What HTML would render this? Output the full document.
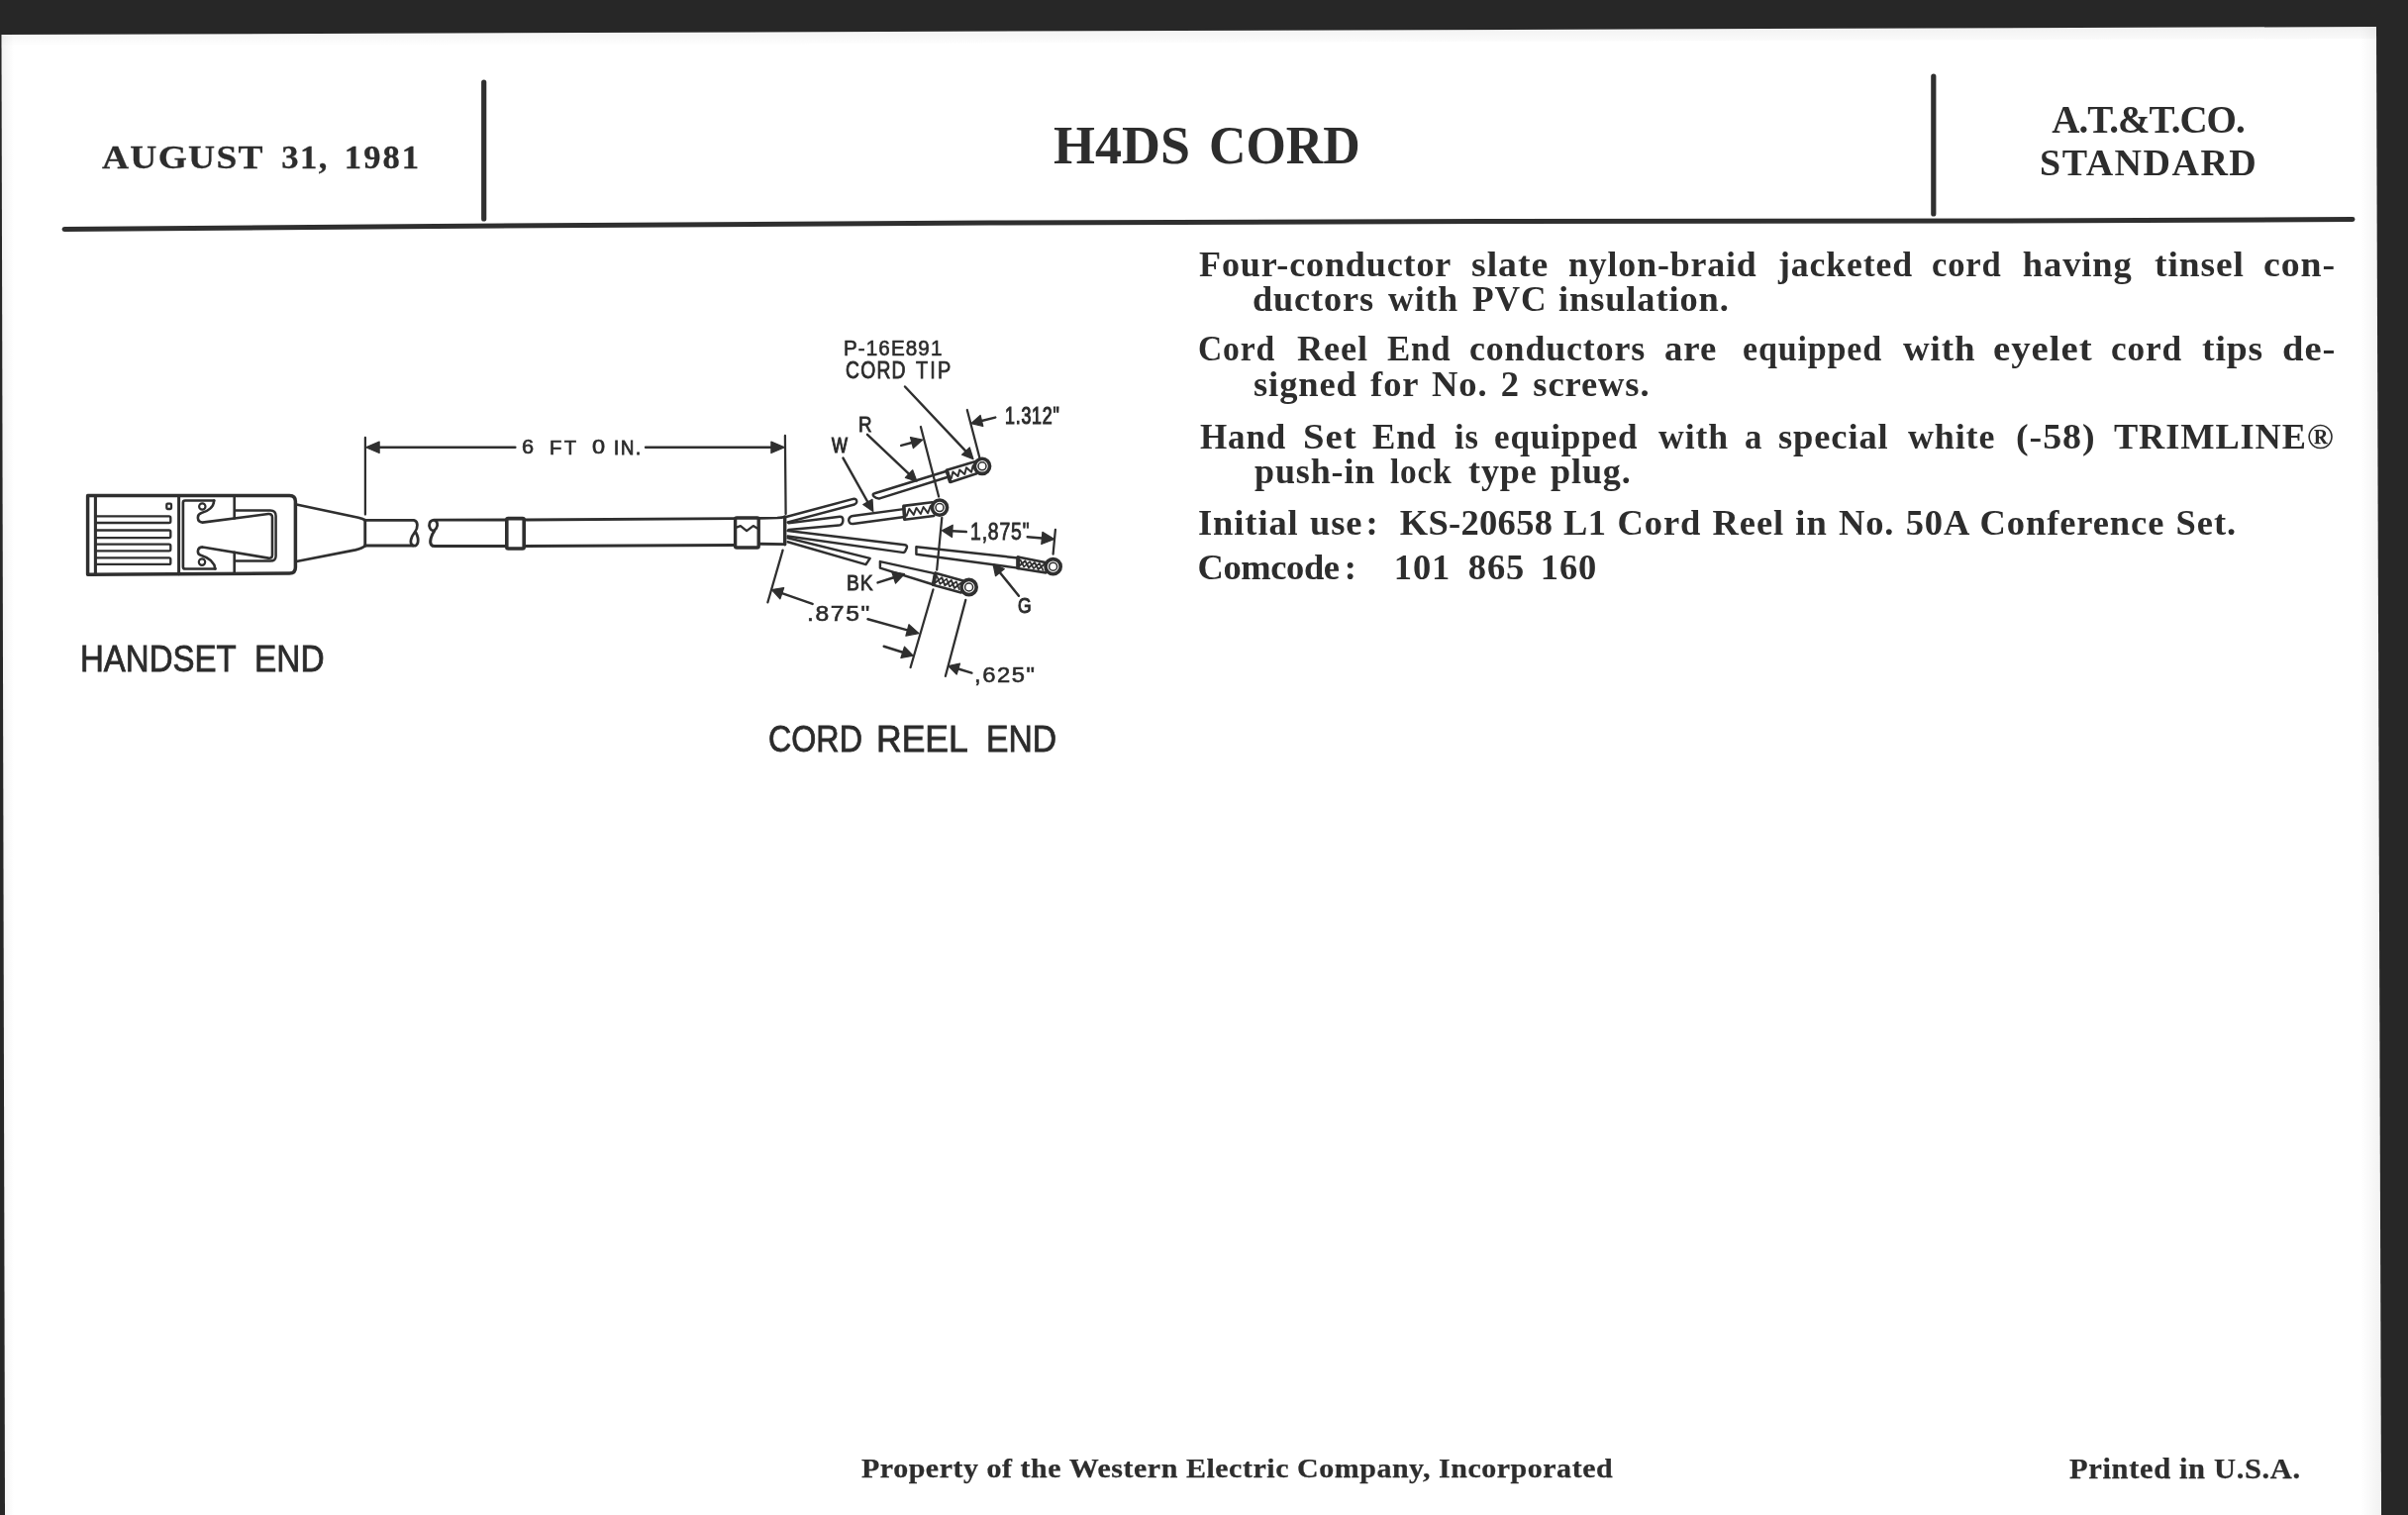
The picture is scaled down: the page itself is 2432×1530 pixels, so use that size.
<!DOCTYPE html>
<html>
<head>
<meta charset="utf-8">
<title>H4DS CORD</title>
<style>
html,body{margin:0;padding:0;background:#fff;}
body{filter:grayscale(1) blur(0.55px);width:2432px;height:1530px;position:relative;overflow:hidden;font-family:"Liberation Serif",serif;color:#2d2d2d;}
#art{position:absolute;left:0;top:0;width:2432px;height:1530px;}
.t{position:absolute;white-space:nowrap;line-height:1;font-weight:bold;}
.j{position:absolute;white-space:normal;line-height:1;font-weight:bold;text-align:justify;text-align-last:justify;font-size:36.5px;letter-spacing:0.9px;height:40px;overflow:visible;}
.l{position:absolute;white-space:nowrap;line-height:1;font-weight:bold;font-size:36.5px;letter-spacing:0.9px;word-spacing:2.5px;}
.l span{position:absolute;top:0;}
.s{font-family:"Liberation Sans",sans-serif;font-weight:normal;position:absolute;white-space:nowrap;line-height:1;color:#2b2b2b;}
.d{transform-origin:0 0;-webkit-text-stroke:0.7px #2b2b2b;}
#lab1 span,#lab2 span{-webkit-text-stroke:0.8px #2b2b2b;}
.w{position:absolute;left:1200px;width:1200px;height:40px;font-weight:bold;font-size:36.5px;letter-spacing:0.9px;line-height:1;white-space:nowrap;}
.w span{position:absolute;top:0;transform-origin:0 0;}
</style>
</head>
<body>
<svg id="art" viewBox="0 0 2432 1530" width="2432" height="1530">
<defs>
<linearGradient id="gt" x1="0" y1="0" x2="0" y2="1"><stop offset="0" stop-color="#000" stop-opacity="0.055"/><stop offset="1" stop-color="#000" stop-opacity="0"/></linearGradient>
<linearGradient id="gr" x1="1" y1="0" x2="0" y2="0"><stop offset="0" stop-color="#000" stop-opacity="0.05"/><stop offset="1" stop-color="#000" stop-opacity="0"/></linearGradient>
<linearGradient id="gl" x1="0" y1="0" x2="1" y2="0"><stop offset="0" stop-color="#000" stop-opacity="0.05"/><stop offset="1" stop-color="#000" stop-opacity="0"/></linearGradient>
</defs>
<g id="shade" stroke="none">
<polygon points="0,35 2400,27 2400,39 0,47" fill="url(#gt)"/>
<rect x="2384" y="27" width="20" height="1503" fill="url(#gr)"/>
<rect x="2" y="35" width="12" height="1495" fill="url(#gl)"/>
</g>
<!-- scanner bed / dark borders -->
<g id="borders" fill="#272727">
<polygon points="0,0 2432,0 2432,27 2400,27 0,35"/>
<polygon points="2400,27 2432,27 2432,1530 2405,1530"/>
<polygon points="0,35 1.5,35 5,1530 0,1530"/>
</g>
<!-- header rules -->
<g id="rules" fill="none" stroke="#2f2f2f" stroke-linecap="round">
<path d="M65,231.5 L440,228.5 L1000,225 L1500,223.6 L2100,222.8 L2376,221.6" stroke-width="5"/>
<line x1="488.7" y1="83" x2="488.7" y2="221" stroke-width="5.2"/>
<line x1="1952.8" y1="77" x2="1952.8" y2="216" stroke-width="5.2"/>
</g>
<g id="diagram" fill="none" stroke="#2f2f2f" stroke-width="2.6" stroke-linecap="round" stroke-linejoin="round">
<!-- plug -->
<path d="M88.6,500.6 H292.4 Q298.4,500.6 298.4,506.6 V573.1 Q298.4,579.1 292.4,579.1 L88.6,580.2 Z" stroke-width="3.50"/>
<path d="M96.4,500.6 L96.4,580.1" stroke-width="3.09"/>
<path d="M180.6,500.6 L180.6,579.7" stroke-width="2.99"/>
<path d="M96.4,521.40 H170.8 Q172.3,521.40 172.3,522.90 V526.50 Q172.3,528.00 170.8,528.00 H96.4" stroke-width="2.32"/>
<path d="M96.4,535.50 H170.8 Q172.3,535.50 172.3,537.00 V541.60 Q172.3,543.10 170.8,543.10 H96.4" stroke-width="2.32"/>
<path d="M96.4,549.70 H170.8 Q172.3,549.70 172.3,551.20 V554.80 Q172.3,556.30 170.8,556.30 H96.4" stroke-width="2.32"/>
<path d="M96.4,563.30 H170.8 Q172.3,563.30 172.3,564.80 V568.40 Q172.3,569.90 170.8,569.90 H96.4" stroke-width="2.32"/>
<rect x="168.3" y="508.7" width="4.7" height="5.3" rx="1" stroke-width="2.27"/>
<path d="M216.2,505.5 H187 Q184.9,505.5 184.9,507.5 V572.5 Q184.9,574.5 187,574.5 H217.5" stroke-width="2.68"/>
<path d="M216.2,505.5 C216,512 210,516.5 203.5,518 C198.5,519.5 198.5,527 204.5,527.6 L271,519 Q275,518.6 275,522.5 V560.5 Q275,564.2 271,563.6 L204.5,552.4 C198.5,553 198.5,560 203.5,561 C210,563 216.5,567.5 217.3,574.5" stroke-width="2.58"/>
<circle cx="204.3" cy="511.5" r="3.2" stroke-width="2.16"/>
<circle cx="204" cy="567.6" r="3.2" stroke-width="2.16"/>
<path d="M238,515.4 H273 Q278.6,515.4 278.6,521 V561.5 Q278.6,566.6 273,566.6 H238" stroke-width="2.47"/>
<path d="M236.7,500.6 L236.7,523.4" stroke-width="2.58"/>
<path d="M236.7,557.8 L236.7,579.1" stroke-width="2.58"/>
<path d="M299.4,509.5 L362,522.8 Q367,524 368.75,525.3" stroke-width="2.68"/>
<path d="M299.4,567 L359,555.4 Q366,553.6 368.75,551.2" stroke-width="2.68"/>
<path d="M368.75,525.3 L368.75,551.2" stroke-width="2.88"/>
<!-- cord -->
<path d="M368.75,525.3 L418,525.3 C422.4,526.2 422.4,533.1 418.9,537.5 C415.4,541.9 412.8,548.8 417.1,551 C422.4,552.3 424.1,545.3 419.8,537.5" stroke-width="2.78"/>
<path d="M368.75,551.1 L417.1,551.1" stroke-width="2.99"/>
<path d="M510.5,525 L438.1,525.2 C433.5,525.6 432.8,530.2 434.2,533.2 C435.6,536.4 438.6,536.8 440.6,533.6 C442.6,530.2 442,526.2 438.1,525.2" stroke-width="2.78"/>
<path d="M438.6,536.4 C435.5,540.5 433.6,547 435.4,550 Q436.6,551.6 439,551.6 L510.5,551.5" stroke-width="2.99"/>
<path d="M530.1,525 L741.6,523.6" stroke-width="2.78"/>
<path d="M530.1,551.5 L741.6,550.5" stroke-width="2.99"/>
<rect x="511.8" y="523.6" width="17.4" height="30.4" rx="1.5" stroke-width="3.60"/>
<rect x="742.6" y="523" width="23.6" height="30" rx="1.5" stroke-width="3.40"/>
<path d="M743.7,532.6 L747.9,531.1 L754.1,536.1 L760.7,531.1 L765.7,534" stroke-width="2.27"/>
<path d="M767.4,523.3 L785,523 Q790,522.8 792.7,522" stroke-width="2.68"/>
<path d="M767.4,549.2 L792.7,549.6" stroke-width="2.88"/>
<path d="M792.7,522 L792.7,549.8" stroke-width="3.40"/>
<!-- dim 6ft -->
<path d="M368.9,441.9 L368.9,519.6" stroke-width="2.27"/>
<path d="M792.9,440 L793.6,519" stroke-width="2.27"/>
<path d="M520.4,451.8 L383.1,451.8" stroke-width="2.37"/>
<path d="M369.6,451.8 L383.1,446.1 L383.1,457.5 Z" fill="#2f2f2f" stroke-width="1.24"/>
<path d="M652.0,451.8 L778.9,451.8" stroke-width="2.37"/>
<path d="M792.4,451.8 L778.9,457.5 L778.9,446.1 Z" fill="#2f2f2f" stroke-width="1.24"/>
<!-- wires -->
<path d="M794,522 L861.5,503.9 Q865.6,503.4 865.2,507 Q864.8,509 862.9,509.5 L795.6,527.4" stroke-width="2.47"/>
<path d="M796.4,528.2 L848.2,521.7 Q851.6,521.6 851.4,525.6 Q851.2,530 847.1,530.6 L796.4,534.9" stroke-width="2.47"/>
<path d="M795.6,536.1 L913.8,550.3 Q916.6,550.8 915.9,553 L914.3,556.6 Q913.4,558.3 911.3,557.9 L795.6,541.5" stroke-width="2.47"/>
<path d="M795.6,543.2 L878.7,563.9 L874.5,570.1 L795.6,547.3" stroke-width="2.47"/>
<path d="M958.9,481.3 L888.4,503.4 Q885.2,503.8 882.6,501.4 Q880.4,499 883.4,498.3 L956.1,475.8" stroke-width="2.47"/>
<path d="M956.1,474.8 L984.5,466.3 M959.8,486.9 L986.4,478.3 M956.1,474.8 L959.8,486.9" stroke-width="2.58"/>
<circle cx="992" cy="470.8" r="7.6" stroke-width="3.60"/>
<circle cx="992" cy="470.8" r="4" stroke-width="1.54"/>
<path d="M912.7,514.1 L861.6,521 Q857.4,521.6 857.2,525.2 Q857.4,529.2 861.6,529 L913.6,522" stroke-width="2.47"/>
<path d="M912.7,510.9 L941.3,507.2 M913.6,524.7 L943.2,521 M912.7,510.9 L913.6,524.7" stroke-width="2.58"/>
<circle cx="949" cy="512.6" r="7.6" stroke-width="3.60"/>
<circle cx="949" cy="512.6" r="4" stroke-width="1.54"/>
<path d="M1028,563.4 L925.4,552.3 L925.4,559.7 L1028,573.6" stroke-width="2.47"/>
<path d="M1028,562.5 L1055.7,568 M1028,574 L1056.3,578.4 M1028,562.5 L1028,574" stroke-width="2.68"/>
<circle cx="1063.6" cy="572.2" r="7.6" stroke-width="3.60"/>
<circle cx="1063.6" cy="572.2" r="4" stroke-width="1.54"/>
<path d="M943.9,579.1 L888.9,567.1 L888.9,573.6 L942.1,590.2" stroke-width="2.47"/>
<path d="M944.8,578.7 L972.6,586.5 M942.5,590.7 L970.7,598.5 M944.8,578.7 L942.5,590.7" stroke-width="2.68"/>
<circle cx="978.6" cy="593" r="7.6" stroke-width="3.60"/>
<circle cx="978.6" cy="593" r="4" stroke-width="1.54"/>
<path d="M956.4,475.6 L959.6,486.2" stroke-width="3.71"/>
<path d="M912.9,511.6 L913.6,524" stroke-width="3.50"/>
<path d="M1028.2,563.2 L1028.2,573.4" stroke-width="3.91"/>
<path d="M944.7,579.4 L942.7,590" stroke-width="3.91"/>
<path d="M960.8,483.1 L962.4,476.5 L967.5,481.0 L969.2,474.4 L974.3,478.9 L976.0,472.3 L981.1,476.8 L982.7,470.2" stroke-width="1.96"/>
<path d="M915.6,520.8 L918.3,513.8 L922.8,519.9 L925.5,512.9 L929.9,519.0 L932.6,512.0 L937.1,518.1 L939.8,511.1" stroke-width="1.96"/>
<path d="M1029.4,571.6 L1035.3,566.4 L1039.0,573.3 L1045.0,568.1 L1048.7,575.0 L1054.6,569.8" stroke-width="1.96"/>
<path d="M1030.5,565.5 L1034.2,572.5 L1040.1,567.2 L1043.9,574.2 L1049.8,568.9 L1053.5,575.9" stroke-width="1.65"/>
<path d="M944.6,588.5 L951.3,583.3 L954.3,591.2 L960.9,586.0 L963.9,593.9 L970.6,588.7" stroke-width="1.96"/>
<path d="M946.4,582.0 L949.4,589.9 L956.1,584.7 L959.1,592.5 L965.8,587.3 L968.8,595.2" stroke-width="1.65"/>
<!-- leaders -->
<path d="M914.0,390.5 L975.4,455.6" stroke-width="2.47"/>
<path d="M983.0,463.6 L971.6,459.2 L979.3,452.0 Z" fill="#2f2f2f" stroke-width="1.24"/>
<path d="M876.0,438.8 L918.0,478.6" stroke-width="2.47"/>
<path d="M926.0,486.2 L914.4,482.5 L921.7,474.8 Z" fill="#2f2f2f" stroke-width="1.24"/>
<path d="M851.5,462.6 L876.4,507.0" stroke-width="2.47"/>
<path d="M881.8,516.6 L871.8,509.6 L881.0,504.4 Z" fill="#2f2f2f" stroke-width="1.24"/>
<path d="M886.5,588.4 L902.6,583.2" stroke-width="2.47"/>
<path d="M913.5,579.6 L904.5,589.0 L900.7,577.4 Z" fill="#2f2f2f" stroke-width="1.24"/>
<path d="M1028.9,601.8 L1009.9,578.2" stroke-width="2.47"/>
<path d="M1003.0,569.6 L1014.3,574.6 L1005.5,581.7 Z" fill="#2f2f2f" stroke-width="1.24"/>
<path d="M929.9,431 L948.1,501.5" stroke-width="2.27"/>
<path d="M976.8,414 L989.3,462" stroke-width="2.27"/>
<path d="M910.2,449.9 L921.0,447.0" stroke-width="2.47"/>
<path d="M931.6,444.2 L922.4,452.5 L919.5,441.5 Z" fill="#2f2f2f" stroke-width="1.24"/>
<path d="M1005.1,421.6 L991.5,425.0" stroke-width="2.47"/>
<path d="M980.8,427.6 L990.1,419.4 L992.8,430.5 Z" fill="#2f2f2f" stroke-width="1.24"/>
<path d="M951.3,522.8 L946.2,575.5" stroke-width="2.27"/>
<path d="M1065.9,534.8 L1063.6,559.7" stroke-width="2.27"/>
<path d="M975.8,537.1 L961.9,536.3" stroke-width="2.47"/>
<path d="M951.4,535.7 L962.2,530.2 L961.5,542.4 Z" fill="#2f2f2f" stroke-width="1.24"/>
<path d="M1037.7,542.2 L1052.3,543.4" stroke-width="2.47"/>
<path d="M1064.8,544.5 L1051.8,549.5 L1052.9,537.4 Z" fill="#2f2f2f" stroke-width="1.24"/>
<path d="M790.6,555.6 L775.4,608.3" stroke-width="2.27"/>
<path d="M820.6,609.9 L789.8,599.2" stroke-width="2.47"/>
<path d="M779.4,595.6 L791.7,593.6 L787.9,604.8 Z" fill="#2f2f2f" stroke-width="1.24"/>
<path d="M942.5,595.3 L919.6,674" stroke-width="2.27"/>
<path d="M876.5,625.3 L916.4,636.4" stroke-width="2.47"/>
<path d="M928.0,639.6 L914.9,642.1 L918.0,630.7 Z" fill="#2f2f2f" stroke-width="1.24"/>
<path d="M892.7,652.7 L911.7,658.8" stroke-width="2.47"/>
<path d="M922.2,662.2 L909.9,664.4 L913.5,653.2 Z" fill="#2f2f2f" stroke-width="1.24"/>
<path d="M975.3,605.9 L954.9,682.8" stroke-width="2.27"/>
<path d="M981.4,679.6 L967.9,675.5" stroke-width="2.47"/>
<path d="M957.8,672.5 L969.5,670.1 L966.2,681.0 Z" fill="#2f2f2f" stroke-width="1.24"/>
</g>
</svg>

<!-- header text -->
<div class="t" id="date" style="left:0;top:141px;font-size:34.5px;-webkit-text-stroke:0.3px #2d2d2d;"><span style="position:absolute;left:102.6px;letter-spacing:1.2px;transform:scaleX(1.085);transform-origin:0 0;">AUGUST</span><span style="position:absolute;left:284.2px;letter-spacing:1.5px;">31,</span><span style="position:absolute;left:347.8px;letter-spacing:2.1px;">1981</span></div>
<div class="t" id="title" style="left:0;top:119px;font-size:55.5px;"><span style="position:absolute;left:1063.7px;transform:scaleX(0.972);transform-origin:0 0;">H4DS</span><span style="position:absolute;left:1221.2px;transform:scaleX(0.935);transform-origin:0 0;">CORD</span></div>
<div class="t" id="att1" style="left:2072.3px;top:101px;font-size:39px;letter-spacing:-1px;">A.T.&amp;T.CO.</div>
<div class="t" id="att2" style="left:2060px;top:144.5px;font-size:38px;letter-spacing:1.5px;">STANDARD</div>

<!-- body text -->
<div class="w" id="p1a" style="top:249.3px;"><span style="left:11.2px;transform:scaleX(0.987);">Four-conductor</span><span style="left:285.5px;transform:scaleX(1.036);">slate</span><span style="left:383.7px;transform:scaleX(0.980);">nylon-braid</span><span style="left:595.9px;transform:scaleX(0.979);">jacketed</span><span style="left:751.0px;transform:scaleX(0.947);">cord</span><span style="left:842.8px;transform:scaleX(1.000);">having</span><span style="left:976.1px;transform:scaleX(1.026);">tinsel</span><span style="left:1086.0px;transform:scaleX(1.035);">con-</span></div>
<div class="w" id="p1b" style="top:284.2px;"><span style="left:65.0px;transform:scaleX(0.993);">ductors</span><span style="left:201.8px;transform:scaleX(0.978);">with</span><span style="left:286.5px;transform:scaleX(0.971);">PVC</span><span style="left:373.7px;transform:scaleX(0.997);">insulation.</span></div>
<div class="w" id="p2a" style="top:334.0px;"><span style="left:10.1px;transform:scaleX(0.921);">Cord</span><span style="left:109.6px;transform:scaleX(0.994);">Reel</span><span style="left:200.6px;transform:scaleX(0.954);">End</span><span style="left:284.0px;transform:scaleX(0.982);">conductors</span><span style="left:481.0px;transform:scaleX(1.008);">are</span><span style="left:559.7px;transform:scaleX(0.932);">equipped</span><span style="left:722.0px;transform:scaleX(1.012);">with</span><span style="left:813.1px;transform:scaleX(1.064);">eyelet</span><span style="left:931.5px;transform:scaleX(0.965);">cord</span><span style="left:1023.5px;transform:scaleX(1.029);">tips</span><span style="left:1104.6px;transform:scaleX(1.058);">de-</span></div>
<div class="l" id="p2b" style="left:1266px;top:370.0px;word-spacing:3.3px;">signed for No. 2 screws.</div>
<div class="w" id="p3a" style="top:423.3px;"><span style="left:12.4px;transform:scaleX(0.959);">Hand</span><span style="left:116.0px;transform:scaleX(1.061);">Set</span><span style="left:185.6px;transform:scaleX(0.957);">End</span><span style="left:269.1px;transform:scaleX(0.946);">is</span><span style="left:309.2px;transform:scaleX(0.961);">equipped</span><span style="left:474.7px;transform:scaleX(0.977);">with</span><span style="left:562.1px;transform:scaleX(0.953);">a</span><span style="left:596.4px;transform:scaleX(0.999);">special</span><span style="left:727.0px;transform:scaleX(0.985);">white</span><span style="left:835.6px;transform:scaleX(1.039);">(-58)</span><span style="left:935.0px;transform:scaleX(0.995);">TRIMLINE&reg;</span></div>
<div class="w" id="p3b" style="top:457.8px;"><span style="left:67.2px;transform:scaleX(0.985);">push-in</span><span style="left:204.3px;transform:scaleX(0.912);">lock</span><span style="left:282.8px;transform:scaleX(0.987);">type</span><span style="left:366.3px;transform:scaleX(0.989);">plug.</span></div>
<div class="l" id="p4" style="left:1210.0px;top:510.0px;word-spacing:1.3px;">Initial use<b style="margin-left:3px;margin-right:10px;">:</b> <i style="font-style:normal;letter-spacing:0.3px;">KS-20658 L1</i> Cord Reel in No. 50A Conference Set.</div>
<div class="l" id="p5" style="left:1209.5px;top:555.0px;"><i style="font-style:normal;letter-spacing:-0.4px;">Comcode</i><b style="margin-left:5px;margin-right:24.5px;">:</b> 101<b style="margin-left:5px;"></b> 865<b style="margin-left:3px;"></b> 160</div>

<!-- footer -->
<div class="t" id="foot1" style="left:870px;top:1468.5px;font-size:28px;letter-spacing:0.5px;transform:scaleX(1.07);transform-origin:0 0;-webkit-text-stroke:0.25px #2d2d2d;">Property of the Western Electric Company, Incorporated</div>
<div class="t" id="foot2" style="left:2090px;top:1470px;font-size:28.5px;letter-spacing:0.6px;transform:scaleX(1.07);transform-origin:0 0;-webkit-text-stroke:0.25px #2d2d2d;">Printed in U.S.A.</div>

<!-- diagram labels -->
<div class="s" id="lab1" style="left:0;top:647.5px;font-size:36.9px;"><span style="position:absolute;left:80.6px;transform:scaleX(0.895);transform-origin:0 0;">HANDSET</span><span style="position:absolute;left:257.2px;transform:scaleX(0.905);transform-origin:0 0;">END</span></div>
<div class="s" id="lab2" style="left:0;top:729px;font-size:36.9px;"><span style="position:absolute;left:775.6px;transform:scaleX(0.874);transform-origin:0 0;">CORD</span><span style="position:absolute;left:885.2px;transform:scaleX(0.963);transform-origin:0 0;">REEL</span><span style="position:absolute;left:996.4px;transform:scaleX(0.913);transform-origin:0 0;">END</span></div>
<!-- dlabels -->
<div class="s d" id="d6a" style="left:527.3px;top:442.0px;font-size:19.9px;letter-spacing:0px;transform:scaleX(1.090);-webkit-text-stroke-width:0.63px;">6</div>
<div class="s d" id="d6b" style="left:555.3px;top:441.7px;font-size:20.1px;letter-spacing:2.5px;transform:scaleX(1.004);-webkit-text-stroke-width:0.61px;">FT</div>
<div class="s d" id="d6c" style="left:598.1px;top:442.0px;font-size:19.9px;letter-spacing:0px;transform:scaleX(1.182);-webkit-text-stroke-width:0.63px;">0</div>
<div class="s d" id="d6d" style="left:620.2px;top:441.7px;font-size:20.1px;letter-spacing:2px;transform:scaleX(0.918);-webkit-text-stroke-width:0.83px;">IN.</div>
<div class="s d" id="pn" style="left:852.3px;top:339.9px;font-size:22.8px;letter-spacing:1.2px;transform:scaleX(0.905);-webkit-text-stroke-width:0.62px;">P-16E891</div>
<div class="s d" id="ct1" style="left:853.5px;top:363.0px;font-size:23.5px;letter-spacing:1.5px;transform:scaleX(0.821);-webkit-text-stroke-width:0.84px;">CORD</div>
<div class="s d" id="ct2" style="left:925.0px;top:363.0px;font-size:23.5px;letter-spacing:2.5px;transform:scaleX(0.847);-webkit-text-stroke-width:0.75px;">TIP</div>
<div class="s d" id="lr" style="left:867.4px;top:417.9px;font-size:21.2px;letter-spacing:0px;transform:scaleX(0.886);-webkit-text-stroke-width:0.83px;">R</div>
<div class="s d" id="lw" style="left:840.3px;top:439.4px;font-size:21.9px;letter-spacing:0px;transform:scaleX(0.771);-webkit-text-stroke-width:1.18px;">W</div>
<div class="s d" id="d1312" style="left:1015.0px;top:407.5px;font-size:23.9px;letter-spacing:1px;transform:scaleX(0.747);-webkit-text-stroke-width:1.11px;">1.312&quot;</div>
<div class="s d" id="d1875" style="left:979.6px;top:526.3px;font-size:23.1px;letter-spacing:1px;transform:scaleX(0.840);-webkit-text-stroke-width:0.80px;">1,875&quot;</div>
<div class="s d" id="lbk" style="left:854.5px;top:578.0px;font-size:21.7px;letter-spacing:1px;transform:scaleX(0.889);-webkit-text-stroke-width:0.77px;">BK</div>
<div class="s d" id="lg" style="left:1027.7px;top:602.2px;font-size:21.3px;letter-spacing:0px;transform:scaleX(0.821);-webkit-text-stroke-width:1.04px;">G</div>
<div class="s d" id="d875" style="left:815.2px;top:608.2px;font-size:22.9px;letter-spacing:1.5px;transform:scaleX(1.080);-webkit-text-stroke-width:0.58px;">.875&quot;</div>
<div class="s d" id="d625" style="left:984.0px;top:670.2px;font-size:22.9px;letter-spacing:1.5px;transform:scaleX(1.038);-webkit-text-stroke-width:0.58px;">,625&quot;</div>
<!-- /dlabels -->
</body>
</html>
